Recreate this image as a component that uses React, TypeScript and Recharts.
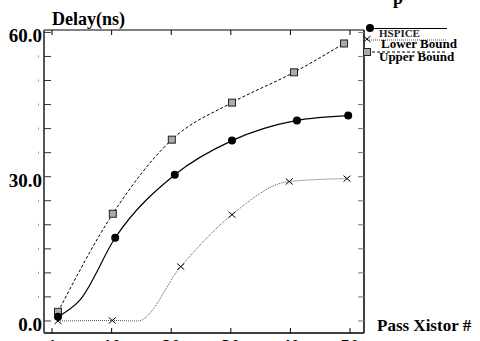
import * as React from 'react';
import { ComposedChart, Line, XAxis, YAxis, Label } from 'recharts';

// x positions are on the plot's own index scale: tick 0 is labelled "1"
const xTicks = [0, 10, 20, 30, 40, 50];
const xTickLabels = ['1', '10', '20', '30', '40', '50'];
const yTicks = [0, 5, 10, 15, 20, 25, 30, 35, 40, 45, 50, 55, 60];
const yMajorLabels: { [k: number]: string } = { 0: '0.0', 30: '30.0', 60: '60.0' };

// 4.7 is a point read off the bend of the curve, it carries no marker
const hspiceX = [1, 4.7, 10.6, 20.6, 30.2, 41.1, 49.7];
const hspiceY = [0.9, 4.4, 17.3, 30.4, 37.5, 41.7, 42.7];
const hspiceMarked = [true, false, true, true, true, true, true];

// the knee at 14.4 is the visible corner of the line, it carries no marker
const lowerX = [1, 10.1, 14.4, 21.6, 30.2, 39.8, 49.5];
const lowerY = [0, 0.1, 0, 11.3, 22.1, 29.0, 29.6];
const lowerMarked = [true, true, false, true, true, true, true];

const upperX = [1, 10.2, 20.1, 30.2, 40.6, 49.0];
const upperY = [1.9, 22.3, 37.7, 45.4, 51.7, 57.7];

const legendNames = ['HSPICE', 'Lower Bound', 'Upper Bound'];

const FONT = '"Liberation Serif", "Times New Roman", serif';

const hspiceData = hspiceX.map((x, i) => ({ x, y: hspiceY[i], mark: hspiceMarked[i] }));
const lowerData = lowerX.map((x, i) => ({ x, y: lowerY[i], mark: lowerMarked[i] }));
const upperData = upperX.map((x, i) => ({ x, y: upperY[i], mark: true }));

function circleMark(cx: number, cy: number, key?: any) {
    return <circle key={key} cx={cx} cy={cy} r={4} fill="#000" />;
}

function squareMark(cx: number, cy: number, key?: any) {
    return <rect key={key} x={cx - 3.5} y={cy - 3.5} width={7} height={7} fill="#aaa" stroke="#222" strokeWidth={1} />;
}

function crossMark(cx: number, cy: number, key?: any) {
    return (
        <g key={key} stroke="#000" strokeWidth={1}>
            <line x1={cx - 3.5} y1={cy - 3} x2={cx + 3.5} y2={cy + 3} />
            <line x1={cx - 3.5} y1={cy + 3} x2={cx + 3.5} y2={cy - 3} />
        </g>
    );
}

function dotWith(draw: (cx: number, cy: number, key?: any) => React.ReactElement) {
    return (props: any) => {
        const { cx, cy, index, payload } = props;
        if (!payload || !payload.mark) {
            return <g key={'d' + index} />;
        }
        return draw(cx, cy, 'd' + index);
    };
}

function BottomTick(props: any) {
    const { x, y, index } = props;
    return (
        <g>
            <line x1={x} y1={y} x2={x} y2={y - 5} stroke="#000" strokeWidth={1} />
            <text x={x} y={y + 20} textAnchor="middle" fontFamily={FONT} fontWeight="bold" fontSize={19} fill="#000">
                {xTickLabels[index]}
            </text>
        </g>
    );
}

function TopTick(props: any) {
    const { x, y } = props;
    return <line x1={x} y1={y} x2={x} y2={y + 5} stroke="#000" strokeWidth={1} />;
}

function LeftTick(props: any) {
    const { x, y, payload } = props;
    const label = yMajorLabels[payload.value];
    return (
        <g>
            <line x1={x} y1={y} x2={x + 7} y2={y} stroke="#333" strokeWidth={1} />
            {label ? (
                <text x={x - 2} y={y + 10} textAnchor="end" fontFamily={FONT} fontWeight="bold" fontSize={19} fill="#000">
                    {label}
                </text>
            ) : (
                <line x1={x - 5.5} y1={y - 1} x2={x - 5.5} y2={y + 1} stroke="#999" strokeWidth={1} />
            )}
        </g>
    );
}

function RightTick(props: any) {
    const { x, y } = props;
    return <line x1={x} y1={y} x2={x - 6} y2={y} stroke="#777" strokeWidth={1} />;
}

function LegendBox() {
    // sits over the chart, in page pixels
    return (
        <svg width={480} height={70} style={{ position: 'absolute', left: 0, top: 0, overflow: 'visible' }}>
            <text x={393} y={4} fontFamily={FONT} fontWeight="bold" fontSize={18} fill="#000">p</text>
            <line x1={370} y1={28.5} x2={447} y2={28.5} stroke="#000" strokeWidth={1.2} />
            {circleMark(370, 28)}
            <text x={379} y={37} fontFamily={FONT} fontWeight="bold" fontSize={11} fill="#222">{legendNames[0]}</text>
            <line x1={367} y1={40} x2={447} y2={40} stroke="#555" strokeWidth={1} strokeDasharray="1 1" />
            {crossMark(367, 39)}
            <text x={381} y={48} fontFamily={FONT} fontWeight="bold" fontSize={13} fill="#000">{legendNames[1]}</text>
            <line x1={372} y1={52} x2={447} y2={52} stroke="#000" strokeWidth={1} strokeDasharray="3 2" />
            {squareMark(367, 52)}
            <text x={379} y={61} fontFamily={FONT} fontWeight="bold" fontSize={13} fill="#000">{legendNames[2]}</text>
        </svg>
    );
}

export default function App() {
    return (
        <div style={{ position: 'absolute', left: 0, top: 0, width: 480, height: 341, background: '#fff' }}>
            <ComposedChart
                width={480}
                height={341}
                margin={{ top: 29, right: 115, bottom: 7, left: 43 }}
                style={{ fontFamily: FONT }}
            >
                <XAxis
                    xAxisId="b"
                    dataKey="x"
                    type="number"
                    domain={[-1.35, 52.35]}
                    allowDataOverflow
                    ticks={xTicks}
                    interval={0}
                    height={1}
                    tickSize={0}
                    tickMargin={0}
                    tickLine={false}
                    tick={<BottomTick />}
                    axisLine={{ stroke: '#000', strokeWidth: 1.5 }}
                >
                    <Label
                        content={() => (
                            <text x={377} y={331} fontFamily={FONT} fontWeight="bold" fontSize={17} fill="#000">
                                Pass Xistor #
                            </text>
                        )}
                    />
                </XAxis>
                <XAxis
                    xAxisId="t"
                    dataKey="x"
                    type="number"
                    orientation="top"
                    domain={[-1.35, 52.35]}
                    allowDataOverflow
                    ticks={xTicks}
                    interval={0}
                    height={1}
                    tickSize={0}
                    tickMargin={0}
                    tickLine={false}
                    tick={<TopTick />}
                    axisLine={{ stroke: '#000', strokeWidth: 1 }}
                />
                <YAxis
                    yAxisId="l"
                    type="number"
                    domain={[-2.5, 60.5]}
                    allowDataOverflow
                    ticks={yTicks}
                    interval={0}
                    width={1}
                    tickSize={0}
                    tickMargin={0}
                    tickLine={false}
                    tick={<LeftTick />}
                    axisLine={{ stroke: '#555', strokeWidth: 2 }}
                >
                    <Label
                        content={() => (
                            <text x={52} y={25} fontFamily={FONT} fontWeight="bold" fontSize={18} fill="#000">
                                Delay(ns)
                            </text>
                        )}
                    />
                </YAxis>
                <YAxis
                    yAxisId="r"
                    orientation="right"
                    type="number"
                    domain={[-2.5, 60.5]}
                    allowDataOverflow
                    ticks={yTicks}
                    interval={0}
                    width={1}
                    tickSize={0}
                    tickMargin={0}
                    tickLine={false}
                    tick={<RightTick />}
                    axisLine={{ stroke: '#000', strokeWidth: 1.5 }}
                />
                <Line
                    xAxisId="b"
                    yAxisId="l"
                    data={upperData}
                    dataKey="y"
                    type="monotone"
                    stroke="#000"
                    strokeWidth={1}
                    strokeDasharray="3 2"
                    dot={dotWith(squareMark)}
                    isAnimationActive={false}
                />
                <Line
                    xAxisId="b"
                    yAxisId="l"
                    data={lowerData}
                    dataKey="y"
                    type="monotone"
                    stroke="#555"
                    strokeWidth={1}
                    strokeDasharray="1 1"
                    dot={dotWith(crossMark)}
                    isAnimationActive={false}
                />
                <Line
                    xAxisId="b"
                    yAxisId="l"
                    data={hspiceData}
                    dataKey="y"
                    type="monotone"
                    stroke="#000"
                    strokeWidth={1.2}
                    dot={dotWith(circleMark)}
                    isAnimationActive={false}
                />
            </ComposedChart>
            <LegendBox />
        </div>
    );
}
